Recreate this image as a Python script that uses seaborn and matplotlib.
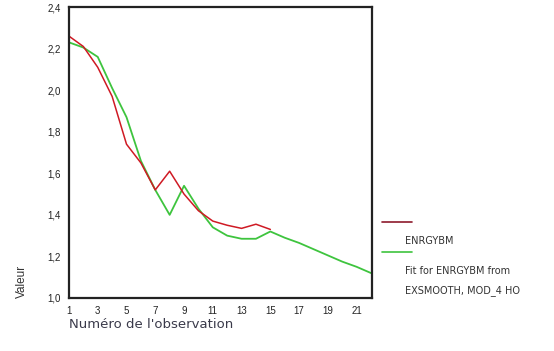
import matplotlib
matplotlib.use("Agg")
import matplotlib.pyplot as plt
from matplotlib.lines import Line2D
import pandas as pd
import seaborn as sns

# Observed series (observations 1-15)
obs_x = list(range(1, 16))
energy = [2.26, 2.21, 2.11, 1.97, 1.74, 1.65, 1.52, 1.61, 1.50, 1.42,
          1.37, 1.35, 1.335, 1.355, 1.33]

# Exponential smoothing fit, including forecasts up to observation 22
fit_x = list(range(1, 23))
fit = [2.23, 2.205, 2.16, 2.01, 1.87, 1.66, 1.52, 1.40, 1.54, 1.43,
       1.34, 1.30, 1.285, 1.285, 1.32, 1.29, 1.265, 1.235, 1.205, 1.175,
       1.15, 1.12]

x_ticks = [1, 3, 5, 7, 9, 11, 13, 15, 17, 19, 21]
y_ticks = [1.0, 1.2, 1.4, 1.6, 1.8, 2.0, 2.2, 2.4]
y_tick_labels = ["1,0", "1,2", "1,4", "1,6", "1,8", "2,0", "2,2", "2,4"]

series_names = ["ENRGYBM", "Fit for ENRGYBM from\nEXSMOOTH, MOD_4 HO"]
red = "#cf1a24"
green = "#3ec43e"

sns.set_style("white")
plt.rcParams["font.family"] = ["Liberation Sans", "DejaVu Sans"]

df_obs = pd.DataFrame({"obs": obs_x, "val": energy})
df_fit = pd.DataFrame({"obs": fit_x, "val": fit})

fig = plt.figure(figsize=(5.54, 3.51), dpi=100)
ax = fig.add_axes([0.1245, 0.151, 0.5465, 0.829])

sns.lineplot(data=df_fit, x="obs", y="val", ax=ax, color=green, linewidth=1.3)
sns.lineplot(data=df_obs, x="obs", y="val", ax=ax, color=red, linewidth=1.1)

ax.set_xlim(1, 22.05)
ax.set_ylim(1.0, 2.4)
ax.set_xticks(x_ticks)
ax.set_xticklabels([str(t) for t in x_ticks])
ax.set_yticks(y_ticks)
ax.set_yticklabels(y_tick_labels)

for s in ax.spines.values():
    s.set_visible(True)
    s.set_color("#222222")
    s.set_linewidth(1.6)

ax.tick_params(axis="both", direction="out", length=3, width=2,
               color="#111111", labelsize=7, labelcolor="#222222", pad=3)
ax.tick_params(axis="x", pad=3)

ax.set_xlabel("Numéro de l'observation", loc="left", fontsize=9.5,
              family="DejaVu Sans", color="#3a3a4a", labelpad=1)
ax.set_ylabel("Valeur", loc="bottom", fontsize=8.5, color="#333333",
              labelpad=14)

# Legend: line sample above each series name
fig.add_artist(Line2D([382 / 554, 412 / 554], [1 - 222 / 351, 1 - 222 / 351],
                      color="#8e1a2c", linewidth=1.2))
fig.text(405 / 554, 1 - 241 / 351, series_names[0], fontsize=7,
         family="DejaVu Sans", color="#333333", va="center", ha="left")
fig.add_artist(Line2D([382 / 554, 412 / 554], [1 - 252 / 351, 1 - 252 / 351],
                      color=green, linewidth=1.2))
fig.text(405 / 554, 1 - 281 / 351, series_names[1], fontsize=7,
         family="DejaVu Sans", color="#333333", va="center", ha="left",
         linespacing=2.05)

fig.savefig("out.png", dpi=100)
